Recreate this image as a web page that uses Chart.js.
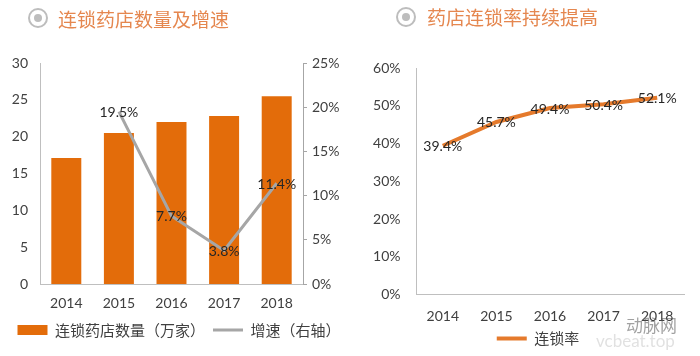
<!DOCTYPE html>
<html>
<head>
<meta charset="utf-8">
<script src="https://cdn.jsdelivr.net/npm/chart.js@4"></script>
<style>
  html, body { margin: 0; padding: 0; background: #fff; }
  #wrap { position: relative; width: 700px; height: 356px; overflow: hidden; background: #fff; }
  canvas { position: absolute; top: 0; }
  .title { position: absolute; top: 6px; font-family: "Noto Sans CJK SC", sans-serif; font-size: 19px; color: #E5874F; line-height: 26px; white-space: nowrap; }
  .icon { position: absolute; width: 16px; height: 16px; border: 2px solid #BDBDBD; border-radius: 50%; }
  .icon::after { content: ""; position: absolute; left: 4px; top: 4px; width: 8px; height: 8px; border-radius: 50%; background: #BDBDBD; }
  .wm { position: absolute; font-family: "Noto Sans CJK SC", sans-serif; color: #888; opacity: 0.35; white-space: nowrap; }
</style>
</head>
<body>
<div id="wrap">
  <canvas id="c1" width="350" height="356" style="left:0px"></canvas>
  <canvas id="c2" width="350" height="356" style="left:350px"></canvas>
  <div class="icon" style="left:28px; top:8px;"></div>
  <div class="title" style="left:58px;">连锁药店数量及增速</div>
  <div class="icon" style="left:396px; top:7px;"></div>
  <div class="title" style="left:427px; top:4px;">药店连锁率持续提高</div>
  <div class="wm" style="left:626px; top:312px; font-size:17px; color:#555; opacity:0.55;">动脉网</div>
  <div class="wm" style="left:596px; top:330px; font-size:17px; font-family: Lato, sans-serif; opacity:0.25;">vcbeat.top</div>
</div>
<script>
// ---- data ----
const years = ['2014', '2015', '2016', '2017', '2018'];
const storeCounts = [17.1, 20.5, 22.0, 22.8, 25.5];      // 万家
const growthRates = [null, 19.5, 7.7, 3.8, 11.4];        // %
const chainRates = [39.4, 45.7, 49.4, 50.4, 52.1];       // %
const countTicks = [0, 5, 10, 15, 20, 25, 30];
const growthTicks = [0, 5, 10, 15, 20, 25];
const chainTicks = [0, 10, 20, 30, 40, 50, 60];
const countLabel = '连锁药店数量（万家）';
const growthLabel = '增速（右轴）';
const chainLabel = '连锁率';

const NUM_FONT = 'Lato, "Noto Sans CJK SC", sans-serif';
const CJK_FONT = '"Noto Sans CJK SC", Lato, sans-serif';
const TEXT = '#404040';
const AXIS = '#BFBFBF';

// draws value labels centered on points of chosen datasets
const valueLabels = {
  id: 'valueLabels',
  afterDatasetsDraw(chart, args, opts) {
    const ctx = chart.ctx;
    (opts.datasets || []).forEach(i => {
      const ds = chart.data.datasets[i];
      const meta = chart.getDatasetMeta(i);
      meta.data.forEach((el, j) => {
        const v = ds.data[j];
        if (v == null) return;
        ctx.save();
        ctx.font = '14px ' + NUM_FONT;
        ctx.fillStyle = '#262626';
        ctx.textAlign = 'center';
        ctx.textBaseline = 'middle';
        ctx.fillText(v.toFixed(1) + '%', el.x + (opts.dx || 0), el.y + (opts.dy || 0));
        ctx.restore();
      });
    });
  }
};

// shifts the legend horizontally after layout
const legendShift = {
  id: 'legendShift',
  afterLayout(chart, args, opts) {
    const dx = opts.dx || 0;
    if (chart.legend && dx) {
      chart.legend.left += dx;
      chart.legend.right += dx;
    }
  }
};

Chart.defaults.font.family = NUM_FONT;
Chart.defaults.color = TEXT;

new Chart(document.getElementById('c1'), {
  data: {
    labels: years,
    datasets: [
      {
        type: 'line',
        label: growthLabel,
        data: growthRates,
        yAxisID: 'y1',
        borderColor: '#A6A6A6',
        backgroundColor: '#A6A6A6',
        borderWidth: 3,
        pointRadius: 0,
        tension: 0,
        order: 0,
        pointStyle: 'line'
      },
      {
        type: 'bar',
        label: countLabel,
        data: storeCounts,
        yAxisID: 'y',
        backgroundColor: '#E36C0A',
        borderWidth: 0,
        barPercentage: 0.57,
        categoryPercentage: 1.0,
        order: 1,
        pointStyle: 'rect'
      }
    ]
  },
  options: {
    responsive: false,
    animation: false,
    layout: { padding: { top: 63, left: 8, right: 0, bottom: 8.5 } },
    scales: {
      x: {
        offset: true,
        grid: { display: false, drawTicks: false },
        border: { display: true, color: AXIS, width: 1 },
        ticks: { font: { size: 14 }, color: TEXT, padding: 11.5 },
        afterFit: s => { s.height = 30.5; }
      },
      y: {
        position: 'left',
        min: 0, max: 30,
        afterBuildTicks: s => { s.ticks = countTicks.map(v => ({ value: v })); },
        grid: { display: false, drawTicks: false },
        border: { display: true, color: AXIS, width: 1 },
        ticks: { font: { size: 14 }, color: TEXT, padding: 12 },
        afterFit: s => { s.width = 32; }
      },
      y1: {
        position: 'right',
        min: 0, max: 25,
        afterBuildTicks: s => { s.ticks = growthTicks.map(v => ({ value: v })); },
        grid: { display: true, drawOnChartArea: false, drawTicks: true, tickLength: 4, color: '#A6A6A6' },
        border: { display: true, color: '#A6A6A6', width: 1 },
        ticks: { font: { size: 14 }, color: TEXT, padding: 5, callback: v => v + '%' },
        afterFit: s => { s.width = 47; }
      }
    },
    plugins: {
      legend: {
        position: 'bottom',
        reverse: true,
        labels: {
          font: { size: 15, family: CJK_FONT },
          color: TEXT,
          usePointStyle: true,
          pointStyleWidth: 30,
          boxHeight: 10,
          padding: 8
        }
      },
      tooltip: { enabled: false },
      valueLabels: { datasets: [0], dx: 0, dy: 1 }
    }
  },
  plugins: [valueLabels]
});

new Chart(document.getElementById('c2'), {
  type: 'line',
  data: {
    labels: years,
    datasets: [
      {
        label: chainLabel,
        data: chainRates,
        borderColor: '#E57A2C',
        backgroundColor: '#E57A2C',
        borderWidth: 4,
        pointRadius: 0,
        tension: 0,
        pointStyle: 'line'
      }
    ]
  },
  options: {
    responsive: false,
    animation: false,
    layout: { padding: { top: 68, left: 0, right: 16, bottom: 0 } },
    scales: {
      x: {
        offset: true,
        grid: { display: false, drawTicks: false },
        border: { display: true, color: AXIS, width: 1 },
        ticks: { font: { size: 14 }, color: TEXT, padding: 13.8 },
        afterFit: s => { s.height = 30.5; }
      },
      y: {
        min: 0, max: 60,
        afterBuildTicks: s => { s.ticks = chainTicks.map(v => ({ value: v })); },
        grid: { display: false, drawTicks: false },
        border: { display: true, color: AXIS, width: 1 },
        ticks: { font: { size: 14 }, color: TEXT, padding: 15.5, callback: v => v + '%' },
        afterFit: s => { s.width = 66; }
      }
    },
    plugins: {
      legend: {
        position: 'bottom',
        labels: {
          font: { size: 15, family: CJK_FONT },
          color: TEXT,
          usePointStyle: true,
          pointStyleWidth: 30,
          boxHeight: 10,
          padding: 6
        }
      },
      legendShift: { dx: 21 },
      tooltip: { enabled: false },
      valueLabels: { datasets: [0], dx: 0, dy: 1 }
    }
  },
  plugins: [valueLabels, legendShift]
});
</script>
</body>
</html>
